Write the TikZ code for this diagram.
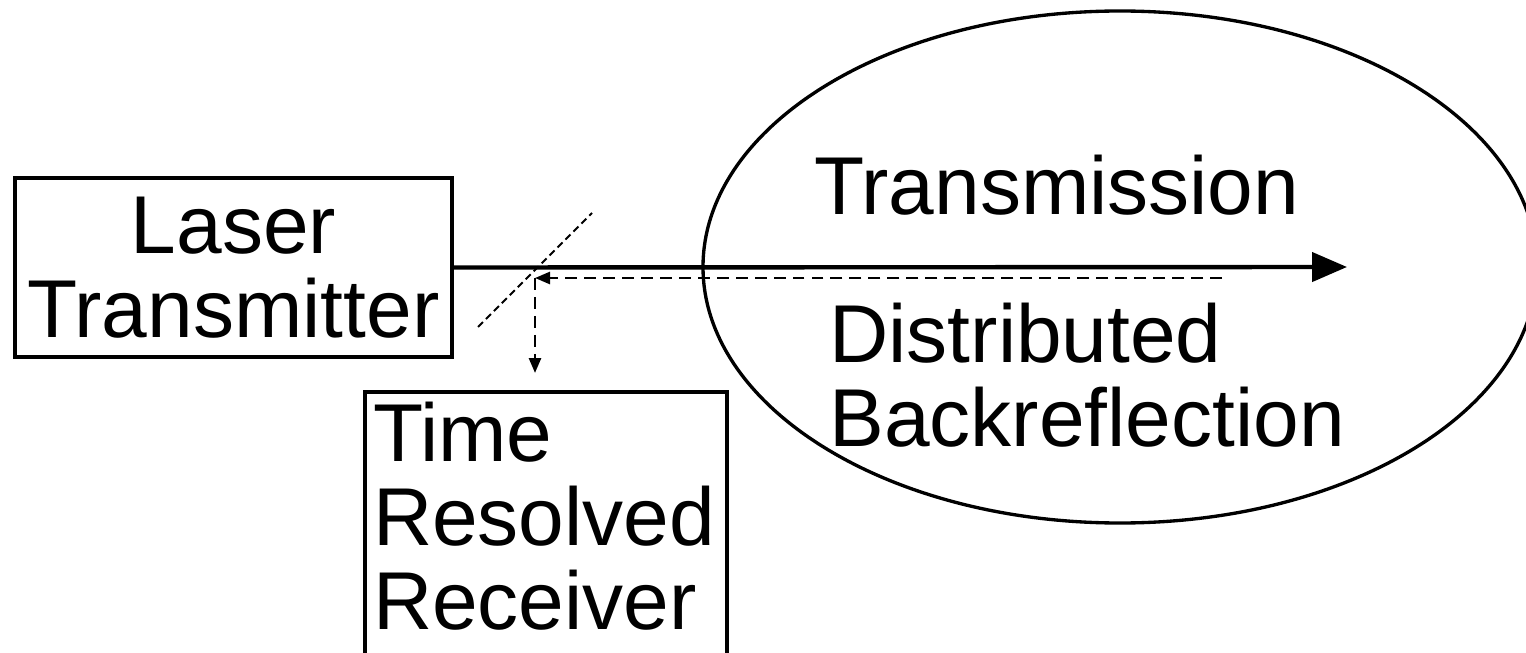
\documentclass[tikz,border=0pt]{standalone}
\usepackage{fontspec}
\setmainfont{Liberation Sans}
\usetikzlibrary{arrows.meta,shapes.geometric}

\tikzset{
  unit/.style={draw, line width=2.8pt, inner sep=0pt, outer sep=0pt},
  lbl/.style={inner sep=0pt, align=left},
  beam/.style={line width=2.5pt, -{Triangle[length=0.7cm,width=0.58cm]}},
  echo/.style={line width=1.5pt, dash pattern=on 6.8pt off 4pt, -{Triangle[length=0.3cm,width=0.24cm]}},
  splitter/.style={line width=1.1pt, dash pattern=on 4pt off 2.4pt},
}

\begin{document}
\begin{tikzpicture}[font=\fontsize{46.7}{47.8}\selectfont]

\clip (0,0) rectangle (30.52,13.04);

\node [unit, align=center, minimum width=8.74cm, minimum height=3.58cm] (laser) at (4.67,7.69) {Laser\\Transmitter};
\node [unit, line width=2.3pt, anchor=north west, inner xsep=0.16cm, inner ysep=0.2cm,
       text width=6.92cm, align=left, text depth=5cm] (rcv) at (7.30,5.20) {Time\\Resolved\\Receiver};
\node [draw, ellipse, line width=1.9pt, inner sep=0pt, minimum width=16.68cm, minimum height=10.24cm] (fiber) at (22.40,7.70) {};

\node [lbl, anchor=base west] (trans) at (16.28,8.74) {Transmission};
\node [lbl, anchor=north west] (back) at (16.58,6.98) {Distributed\\Backreflection};

\coordinate (tip) at (26.94,7.70);
\coordinate (bs) at (10.70,7.48);
\coordinate (refl) at (24.44,7.48);
\coordinate (det) at (10.70,5.58);

% outgoing pulse and the light coming back
\draw [beam] (laser.east) -- (tip);
\draw [echo] (refl) -- (bs);
\draw [echo] (bs) -- (det);

% beam splitter
\draw [splitter] (9.56,6.50) -- (11.84,8.78);

\end{tikzpicture}
\end{document}
